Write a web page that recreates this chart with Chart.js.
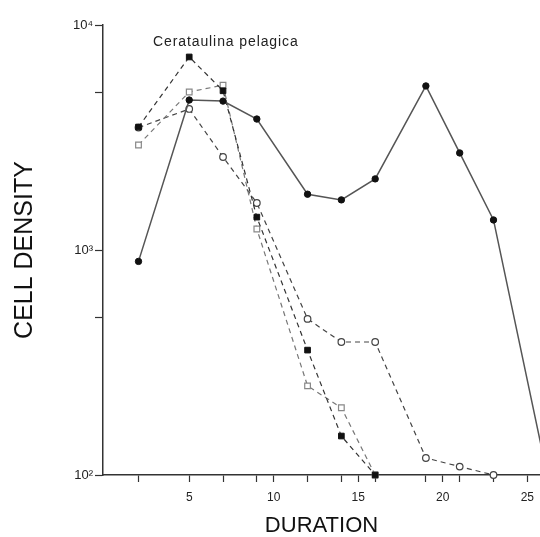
<!DOCTYPE html>
<html><head><meta charset="utf-8">
<script src="https://cdn.jsdelivr.net/npm/chart.js@4/dist/chart.umd.min.js"></script>
<style>html,body{margin:0;padding:0;background:#fff;}</style>
</head><body>
<canvas id="c" width="540" height="537" style="display:block;width:540px;height:537px"></canvas>
<script>
// ---- data ----
const chartTitle = "Cerataulina pelagica";
const xAxisTitle = "DURATION";
const yAxisTitle = "CELL DENSITY";
const xTickValues = [2, 5, 7, 9, 10, 12, 14, 15, 16, 19, 20, 21, 23, 25];
const xLabelValues = [5, 10, 15, 20, 25];
const yTickValues = [100, 500, 1000, 5000, 10000];
const yTickLabels = {100: "10²", 1000: "10³", 10000: "10⁴"};

const solidDays  = [2, 5, 7, 9, 12, 14, 16, 19, 21, 23, 26];
const solidCells = [890, 4640, 4590, 3820, 1770, 1670, 2070, 5360, 2700, 1360, 116];
const filledSqDays  = [2, 5, 7, 9, 12, 14, 16];
const filledSqCells = [3520, 7210, 5100, 1400, 359, 149, 100];
const openSqDays  = [2, 5, 7, 9, 12, 14, 16];
const openSqCells = [2930, 5040, 5400, 1240, 249, 199, 100];
const openCircDays  = [2, 5, 7, 9, 12, 14, 16, 19, 21, 23];
const openCircCells = [3500, 4235, 2590, 1618, 494, 390, 390, 119, 109, 100];

const pts = (xs, ys) => xs.map((x, i) => ({x: x, y: ys[i]}));
const FONT = '"Liberation Sans", Arial, Helvetica, sans-serif';

const titlePlugin = {
  id: 'speciesTitle',
  afterDraw(chart) {
    const ctx = chart.ctx, a = chart.chartArea;
    ctx.save();
    ctx.font = '14px ' + FONT;
    try { ctx.letterSpacing = '0.9px'; } catch (e) {}
    ctx.fillStyle = '#222';
    ctx.textBaseline = 'middle';
    ctx.textAlign = 'left';
    ctx.fillText(chartTitle, a.left + 50, a.top + 17);
    ctx.restore();
  }
};

new Chart(document.getElementById('c'), {
  type: 'line',
  data: {
    datasets: [
      { data: pts(solidDays, solidCells), borderColor: '#555', borderWidth: 1.5,
        pointStyle: 'circle', pointRadius: 3.2, pointBackgroundColor: '#111', pointBorderColor: '#111',
        pointBorderWidth: 1, tension: 0, clip: false },
      { data: pts(filledSqDays, filledSqCells), borderColor: '#333', borderWidth: 1.2, borderDash: [5, 4],
        pointStyle: 'rect', pointRadius: 4, pointBackgroundColor: '#111', pointBorderColor: '#111',
        pointBorderWidth: 1, tension: 0, clip: false },
      { data: pts(openSqDays, openSqCells), borderColor: '#777', borderWidth: 1.2, borderDash: [5, 4],
        pointStyle: 'rect', pointRadius: 4, pointBackgroundColor: '#fff', pointBorderColor: '#888',
        pointBorderWidth: 1.2, tension: 0, clip: false },
      { data: pts(openCircDays, openCircCells), borderColor: '#444', borderWidth: 1.2, borderDash: [5, 4],
        pointStyle: 'circle', pointRadius: 3.3, pointBackgroundColor: '#fff', pointBorderColor: '#444',
        pointBorderWidth: 1.2, tension: 0, clip: false }
    ]
  },
  options: {
    responsive: false, animation: false, devicePixelRatio: 1,
    layout: {autoPadding: false, padding: {top: 25, right: 0, bottom: 0, left: 0}},
    plugins: {legend: {display: false}, tooltip: {enabled: false}, title: {display: false}},
    scales: {
      x: {
        type: 'linear', min: -0.1, max: 25.75,
        afterBuildTicks: s => { s.ticks = xTickValues.map(v => ({value: v})); },
        afterFit: s => { s.height = 62; s.paddingRight = 0; s.paddingLeft = 0; },
        ticks: {autoSkip: false, maxRotation: 0, minRotation: 0, padding: 8, color: '#222',
          font: {family: FONT, size: 12},
          callback: v => xLabelValues.includes(v) ? String(v) : ''},
        grid: {drawOnChartArea: false, drawTicks: true, tickLength: 7, color: '#333', tickWidth: 1.2},
        border: {color: '#333', width: 1.5},
        title: {display: true, text: xAxisTitle, color: '#111',
          font: {family: FONT, size: 22, lineHeight: 1}, padding: {top: 0, bottom: 0}}
      },
      y: {
        type: 'logarithmic', min: 100, max: 10000,
        afterBuildTicks: s => { s.ticks = yTickValues.map(v => ({value: v})); },
        afterFit: s => { s.width = 103; s.paddingTop = 0; s.paddingBottom = 0; },
        ticks: {autoSkip: false, padding: 2, color: '#222', font: {family: FONT, size: 13},
          callback: v => yTickLabels[v] || ''},
        grid: {drawOnChartArea: false, drawTicks: true, tickLength: 8, color: '#333', tickWidth: 1.2},
        border: {color: '#333', width: 1.5},
        title: {display: true, text: yAxisTitle, color: '#111',
          font: {family: FONT, size: 25, lineHeight: 1.2}, padding: {top: 10, bottom: 0}}
      }
    }
  },
  plugins: [titlePlugin]
});
</script>
</body></html>
